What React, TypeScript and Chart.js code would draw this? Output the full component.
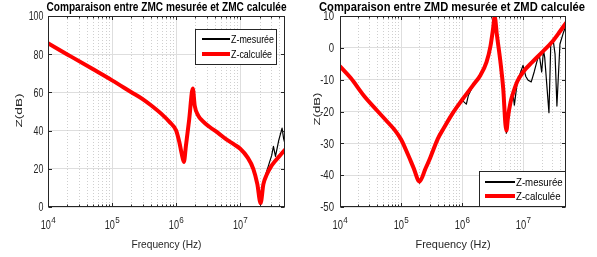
import React, { useEffect, useRef } from 'react';
import { Chart, registerables } from 'chart.js';
Chart.register(...registerables);

// ---------- DATA ----------
// ZMC (left plot)
const zmcCalcFreq = [1e4, 2e4, 5e4, 1e5, 2e5, 3e5, 4e5, 6e5, 8e5, 1e6, 1.12e6, 1.22e6, 1.32e6, 1.42e6, 1.6e6, 1.82e6, 1.95e6, 2.2e6, 2.6e6, 3.3e6, 4.5e6, 6e6, 8e6, 1e7, 1.3e7, 1.6e7, 1.85e7, 2.08e7, 2.3e7, 2.6e7, 3e7, 3.6e7, 4.3e7, 5e7];
const zmcCalc = [85.7, 79.9, 72.2, 66.3, 60.1, 56.5, 53.4, 48.5, 44.3, 40, 34, 28, 23.5, 32, 46, 62, 53, 48, 45, 42, 38.8, 35.5, 32.8, 30.5, 26, 20, 12, 2, 12, 17, 21, 24.5, 27.5, 30];
const zmcMesFreq = [1e4, 2e4, 5e4, 1e5, 2e5, 3e5, 4e5, 6e5, 8e5, 1e6, 1.12e6, 1.22e6, 1.32e6, 1.42e6, 1.6e6, 1.82e6, 1.95e6, 2.2e6, 2.6e6, 3.3e6, 4.5e6, 6e6, 8e6, 1e7, 1.3e7, 1.6e7, 1.85e7, 2.08e7, 2.3e7, 2.5e7, 2.8e7, 3.1e7, 3.3e7, 3.55e7, 4e7, 4.5e7, 4.75e7, 5e7];
const zmcMes = [85.7, 79.9, 72.2, 66.3, 60.1, 56.5, 53.4, 48.5, 44.3, 40, 34, 28, 23.5, 32, 46, 62, 53, 48, 45, 42, 38.8, 35.5, 32.8, 30.5, 26, 20, 12, 1.5, 11, 17, 22.3, 27, 31.8, 26.5, 35, 41.3, 36, 33];

// ZMD (right plot)
const zmdCalcFreq = [1e4, 1.5e4, 2.5e4, 4e4, 6e4, 8e4, 1e5, 1.3e5, 1.6e5, 2e5, 2.5e5, 3e5, 4e5, 5e5, 7e5, 1e6, 1.5e6, 2e6, 2.5e6, 2.9e6, 3.2e6, 3.4e6, 3.7e6, 4.2e6, 4.7e6, 5.1e6, 5.3e6, 5.6e6, 6.2e6, 7e6, 8e6, 1e7, 1.4e7, 2e7, 3e7, 4e7, 5e7];
const zmdCalc = [-5.8, -9.5, -15.2, -19.6, -23.3, -26, -28.8, -33.6, -37.7, -42, -38, -34.5, -28.5, -25.2, -20.5, -16.3, -11.8, -8.5, -4.5, 0.5, 6, 9.8, 4, -4, -13, -24, -26, -22, -17, -13.5, -10.5, -7.5, -4.5, -1.5, 2, 5.2, 7.8];
const zmdMesFreq = [1e4, 1.5e4, 2.5e4, 4e4, 6e4, 8e4, 1e5, 1.3e5, 1.6e5, 2e5, 2.5e5, 3e5, 4e5, 5e5, 7e5, 1e6, 1.17e6, 1.26e6, 1.5e6, 2e6, 2.5e6, 2.9e6, 3.2e6, 3.4e6, 3.7e6, 4.2e6, 4.7e6, 5.1e6, 5.3e6, 5.75e6, 6.17e6, 6.76e6, 7.14e6, 7.94e6, 8.91e6, 9.9e6, 1.1e7, 1.2e7, 1.35e7, 1.51e7, 1.66e7, 1.82e7, 2.0e7, 2.14e7, 2.24e7, 2.63e7, 2.82e7, 3.09e7, 3.31e7, 3.55e7, 3.98e7, 4.47e7, 5e7];
const zmdMes = [-5.8, -9.5, -15.2, -19.6, -23.3, -26.2, -29.1, -34, -38.1, -42.5, -38.5, -34.8, -28.7, -25.4, -20.8, -16.5, -17.7, -15, -12, -8.6, -4.5, 0.5, 6, 9.8, 4, -4, -13, -24.5, -26.8, -21, -16, -14, -18, -11, -8, -5.5, -9, -10.2, -10.7, -7.5, -4.5, -1.9, -7.6, -0.8, -3, -20.4, 1.5, 2.3, -2, -18.3, 1.2, 4.4, 7];

const xMajorTicks = [1e4, 1e5, 1e6, 1e7];
const xTickExponents = ['4', '5', '6', '7'];
const zmcYTicks = [0, 20, 40, 60, 80, 100];
const zmdYTicks = [-50, -40, -30, -20, -10, 0, 10];
const legendLabels = ['Z-mesurée', 'Z-calculée'];

// ---------- STYLE ----------
const FONT = '"Liberation Sans", Arial, Helvetica, sans-serif';
const AX = '#262626';
const H = 257;

type Spec = {
  canvasW: number;
  area: { left: number; right: number; top: number; bottom: number };
  title: string; titleCx: number; titleW: number;
  ylabCx: number; ylabCy: number; ylabLen: number;
  xlabCx: number; xlabW: number;
  yTickRight: number; yTickSx: number;
  xTickSx: number;
  legend: { x: number; y: number; w: number; h: number; l1: number; l2: number; rows: number[]; tx: number; tw: number };
  yMin: number; yMax: number; yTicks: number[];
  mesF: number[]; mes: number[]; calF: number[]; cal: number[];
};

function txt(ctx: CanvasRenderingContext2D, s: string, x: number, y: number, font: string, sx: number, align: string, color: string) {
  ctx.save();
  ctx.font = font;
  ctx.fillStyle = color;
  ctx.textBaseline = 'alphabetic';
  ctx.textAlign = 'left';
  const w = ctx.measureText(s).width * sx;
  const x0 = align === 'left' ? x : align === 'center' ? x - w / 2 : x - w;
  ctx.translate(x0, y);
  ctx.scale(sx, 1);
  ctx.fillText(s, 0, 0);
  ctx.restore();
}
function fit(ctx: CanvasRenderingContext2D, s: string, font: string, target: number) {
  ctx.save();
  ctx.font = font;
  const w = ctx.measureText(s).width;
  ctx.restore();
  return target / w;
}

function makeChart(canvas: HTMLCanvasElement, sp: Spec) {
  const minorVals: number[] = [];
  for (let k = 4; k <= 7; k++) for (let m = 2; m <= 9; m++) { const v = m * Math.pow(10, k); if (v < 5e7) minorVals.push(v); }

  const deco = {
    id: 'deco',
    beforeDatasetsDraw(chart: any) {
      const ctx = chart.ctx as CanvasRenderingContext2D;
      const xs = chart.scales.x; const a = chart.chartArea;
      ctx.save();
      ctx.strokeStyle = '#cfcfcf';
      ctx.lineWidth = 1;
      ctx.setLineDash([1, 2]);
      for (const v of minorVals) {
        const px = Math.round(xs.getPixelForValue(v)) + 0.5;
        ctx.beginPath(); ctx.moveTo(px, a.top); ctx.lineTo(px, a.bottom); ctx.stroke();
      }
      ctx.restore();
    },
    afterDraw(chart: any) {
      const ctx = chart.ctx as CanvasRenderingContext2D;
      const xs = chart.scales.x; const ys = chart.scales.y; const a = chart.chartArea;
      ctx.save();
      ctx.strokeStyle = AX; ctx.lineWidth = 1; ctx.setLineDash([]);
      const L = Math.round(a.left) + 0.5, R = Math.round(a.right) - 0.5, T = Math.round(a.top) + 0.5, B = Math.round(a.bottom) - 0.5;
      ctx.strokeRect(L, T, R - L, B - T);
      ctx.beginPath();
      for (const v of xMajorTicks) {
        const px = Math.round(xs.getPixelForValue(v)) + 0.5;
        ctx.moveTo(px, B); ctx.lineTo(px, B - 3.5);
        ctx.moveTo(px, T); ctx.lineTo(px, T + 3.5);
      }
      for (const v of minorVals) {
        const px = Math.round(xs.getPixelForValue(v)) + 0.5;
        ctx.moveTo(px, B); ctx.lineTo(px, B - 2);
        ctx.moveTo(px, T); ctx.lineTo(px, T + 2);
      }
      for (const v of sp.yTicks) {
        const py = Math.round(ys.getPixelForValue(v)) + 0.5;
        ctx.moveTo(L, py); ctx.lineTo(L + 3.5, py);
        ctx.moveTo(R, py); ctx.lineTo(R - 3.5, py);
      }
      ctx.stroke();
      ctx.restore();

      // y tick labels
      const tf = `12px ${FONT}`;
      for (const v of sp.yTicks) {
        const py = ys.getPixelForValue(v);
        txt(ctx, String(v), sp.yTickRight, py + 4.3, tf, sp.yTickSx, 'right', AX);
      }
      // x tick labels 10^k
      const ef = `8.5px ${FONT}`;
      const esx = 0.95;
      xMajorTicks.forEach((v, i) => {
        const px = xs.getPixelForValue(v);
        ctx.save(); ctx.font = tf; const w1 = ctx.measureText('10').width * sp.xTickSx;
        ctx.font = ef; const w2 = ctx.measureText(xTickExponents[i]).width * esx; ctx.restore();
        const x0 = px - (w1 + w2) / 2;
        txt(ctx, '10', x0, 229, tf, sp.xTickSx, 'left', AX);
        txt(ctx, xTickExponents[i], x0 + w1 + 0.3, 222.5, ef, esx, 'left', AX);
      });
      // title
      const titleF = `bold 12px ${FONT}`;
      txt(ctx, sp.title, sp.titleCx, 10.5, titleF, fit(ctx, sp.title, titleF, sp.titleW), 'center', '#000');
      // x label
      const lf = `11.5px ${FONT}`;
      txt(ctx, 'Frequency (Hz)', sp.xlabCx, 247.5, lf, fit(ctx, 'Frequency (Hz)', lf, sp.xlabW), 'center', AX);
      // y label rotated
      ctx.save();
      ctx.font = `12px ${FONT}`;
      const m = ctx.measureText('Z(dB)').width;
      ctx.translate(sp.ylabCx, sp.ylabCy);
      ctx.rotate(-Math.PI / 2);
      ctx.scale(sp.ylabLen / m, 0.8);
      ctx.fillStyle = AX; ctx.textAlign = 'center'; ctx.textBaseline = 'middle';
      ctx.fillText('Z(dB)', 0, 0);
      ctx.restore();
      // legend
      const lg = sp.legend;
      ctx.save();
      ctx.fillStyle = '#fff';
      ctx.fillRect(lg.x, lg.y, lg.w, lg.h);
      ctx.strokeStyle = AX; ctx.lineWidth = 1;
      ctx.strokeRect(lg.x + 0.5, lg.y + 0.5, lg.w - 1, lg.h - 1);
      ctx.lineCap = 'butt';
      ctx.strokeStyle = '#000'; ctx.lineWidth = 2;
      ctx.beginPath(); ctx.moveTo(lg.l1, lg.rows[0]); ctx.lineTo(lg.l2, lg.rows[0]); ctx.stroke();
      ctx.strokeStyle = '#ff0000'; ctx.lineWidth = 4;
      ctx.beginPath(); ctx.moveTo(lg.l1, lg.rows[1]); ctx.lineTo(lg.l2, lg.rows[1]); ctx.stroke();
      ctx.restore();
      const legF = `11px ${FONT}`;
      const lsx = fit(ctx, legendLabels[0], legF, lg.tw);
      txt(ctx, legendLabels[0], lg.tx, lg.rows[0] + 4, legF, lsx, 'left', '#000');
      txt(ctx, legendLabels[1], lg.tx, lg.rows[1] + 4, legF, lsx, 'left', '#000');
    },
  };

  return new Chart(canvas, {
    type: 'line',
    data: {
      datasets: [
        {
          label: legendLabels[0],
          data: sp.mesF.map((f, i) => ({ x: f, y: sp.mes[i] })),
          borderColor: '#000000', borderWidth: 1.2, pointRadius: 0, tension: 0,
          borderJoinStyle: 'round', borderCapStyle: 'round', order: 1,
        },
        {
          label: legendLabels[1],
          data: sp.calF.map((f, i) => ({ x: f, y: sp.cal[i] })),
          borderColor: '#ff0000', borderWidth: 4, pointRadius: 0,
          cubicInterpolationMode: 'monotone',
          borderJoinStyle: 'round', borderCapStyle: 'round', order: 0,
        },
      ],
    },
    options: {
      responsive: false,
      animation: false,
      devicePixelRatio: 1,
      layout: { padding: { left: 0, top: sp.area.top, right: sp.canvasW - sp.area.right, bottom: 0 } },
      plugins: { legend: { display: false }, title: { display: false }, tooltip: { enabled: false } },
      events: [],
      scales: {
        x: {
          type: 'logarithmic', min: 1e4, max: 5e7,
          afterBuildTicks: (s: any) => { s.ticks = xMajorTicks.map((v) => ({ value: v })); },
          afterFit: (s: any) => { s.height = H - sp.area.bottom; },
          ticks: { display: false },
          grid: { color: '#dedede', drawTicks: false, lineWidth: 1 },
          border: { display: false },
        },
        y: {
          type: 'linear', min: sp.yMin, max: sp.yMax,
          afterBuildTicks: (s: any) => { s.ticks = sp.yTicks.map((v) => ({ value: v })); },
          afterFit: (s: any) => { s.width = sp.area.left; },
          ticks: { display: false },
          grid: { color: '#dedede', drawTicks: false, lineWidth: 1 },
          border: { display: false },
        },
      },
    } as any,
    plugins: [deco],
  });
}

const leftSpec: Spec = {
  canvasW: 298,
  area: { left: 48, right: 285, top: 16, bottom: 207 },
  title: 'Comparaison entre ZMC mesurée et ZMC calculée', titleCx: 166.5, titleW: 240,
  ylabCx: 19.5, ylabCy: 110.5, ylabLen: 34,
  xlabCx: 166.5, xlabW: 70,
  yTickRight: 43.5, yTickSx: 0.74, xTickSx: 0.76,
  legend: { x: 195, y: 29, w: 82, h: 36, l1: 202, l2: 230, rows: [39, 54], tx: 231, tw: 43 },
  yMin: 0, yMax: 100, yTicks: zmcYTicks,
  mesF: zmcMesFreq, mes: zmcMes, calF: zmcCalcFreq, cal: zmcCalc,
};
const rightSpec: Spec = {
  canvasW: 299,
  area: { left: 42, right: 268, top: 16, bottom: 207 },
  title: 'Comparaison entre ZMD mesurée et ZMD calculée', titleCx: 154, titleW: 266,
  ylabCx: 19, ylabCy: 109, ylabLen: 33,
  xlabCx: 155, xlabW: 75,
  yTickRight: 36, yTickSx: 0.8, xTickSx: 0.78,
  legend: { x: 181, y: 171, w: 87, h: 36, l1: 187, l2: 217, rows: [182, 196], tx: 218, tw: 46.7 },
  yMin: -50, yMax: 10, yTicks: zmdYTicks,
  mesF: zmdMesFreq, mes: zmdMes, calF: zmdCalcFreq, cal: zmdCalc,
};

function Plot({ spec, left }: { spec: Spec; left: number }) {
  const ref = useRef<HTMLCanvasElement>(null);
  useEffect(() => {
    const c = makeChart(ref.current!, spec);
    return () => c.destroy();
  }, [spec]);
  return (
    <canvas
      ref={ref}
      width={spec.canvasW}
      height={H}
      style={{ position: 'absolute', left, top: 0, width: spec.canvasW, height: H, display: 'block' }}
    />
  );
}

export default function App() {
  return (
    <div style={{ position: 'fixed', left: 0, top: 0, width: 597, height: H, background: '#fff', overflow: 'hidden' }}>
      <Plot spec={leftSpec} left={0} />
      <Plot spec={rightSpec} left={298} />
    </div>
  );
}
